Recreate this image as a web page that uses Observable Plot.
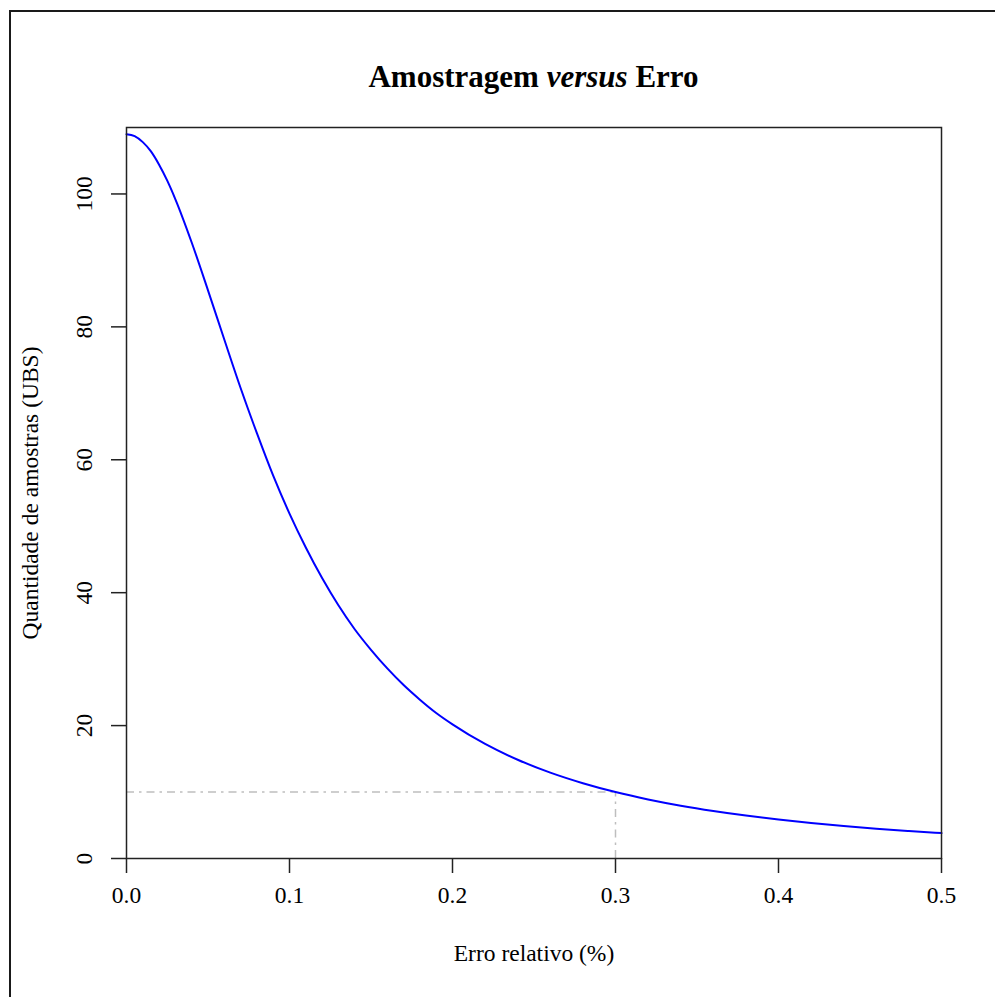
<!DOCTYPE html>
<html>
<head>
<meta charset="utf-8">
<script src="https://cdn.jsdelivr.net/npm/d3@7"></script>
<script src="https://cdn.jsdelivr.net/npm/@observablehq/plot@0.6"></script>
<style>
  html, body { margin: 0; padding: 0; background: #fff; overflow: hidden; }
  #wrap { position: relative; width: 995px; height: 997px; overflow: hidden; }
  #border { position: absolute; left: 9px; top: 10px; width: 1100px; height: 1100px; border: 2px solid #1a1a1a; box-sizing: border-box; }
  #chart { position: absolute; left: 0; top: 0; }
</style>
</head>
<body>
<div id="wrap"><div id="border"></div><div id="chart"></div></div>
<script>
// Values
const erro = [0, 0.005, 0.01, 0.015, 0.02, 0.025, 0.03, 0.04, 0.05, 0.06, 0.07, 0.08, 0.09, 0.10, 0.11, 0.12, 0.13, 0.14, 0.15, 0.16, 0.17, 0.18, 0.19, 0.20, 0.22, 0.24, 0.26, 0.28, 0.30, 0.32, 0.34, 0.36, 0.38, 0.40, 0.42, 0.44, 0.46, 0.48, 0.50];
const amostras = [109, 108.7, 107.8, 106.4, 104.4, 102.0, 99.2, 92.7, 85.5, 78.1, 70.8, 64.0, 57.6, 51.9, 46.8, 42.2, 38.1, 34.5, 31.4, 28.6, 26.1, 23.9, 21.9, 20.19, 17.24, 14.86, 12.92, 11.33, 10.0, 8.89, 7.95, 7.15, 6.46, 5.86, 5.34, 4.89, 4.49, 4.14, 3.82];
const refErro = [0.3];
const refAmostras = [10];
const xTicks = [0, 0.1, 0.2, 0.3, 0.4, 0.5];
const yTicks = [0, 20, 40, 60, 80, 100];
const titleParts = [["Amostragem ", "normal"], ["versus", "italic"], [" Erro", "normal"]];
const xLabel = "Erro relativo (%)";
const yLabel = "Quantidade de amostras (UBS)";

const data = erro.map((e, i) => ({erro: e, amostras: amostras[i]}));
const font = "Liberation Serif, Times New Roman, serif";
const fs = 23.5;

const plot = Plot.plot({
  width: 995,
  height: 997,
  marginLeft: 126,
  marginTop: 127,
  marginRight: 54,
  marginBottom: 139,
  style: {fontFamily: font, fontSize: fs + "px", color: "#000", background: "transparent"},
  x: {domain: [0, 0.5]},
  y: {domain: [0, 110]},
  marks: [
    Plot.ruleY(refAmostras, {y: d => d, x1: 0, x2: refErro[0], stroke: "#bebebe", strokeWidth: 1.5, strokeDasharray: "8,5,2.5,5"}),
    Plot.ruleX(refErro, {x: d => d, y1: 0, y2: refAmostras[0], stroke: "#bebebe", strokeWidth: 1.5, strokeDasharray: "8,5,2.5,5"}),
    Plot.line(data, {x: "erro", y: "amostras", stroke: "#0000ff", strokeWidth: 2, curve: "monotone-x"}),
    Plot.axisX({ticks: xTicks, tickSize: 15, tickFormat: () => "", label: null, stroke: "#222", strokeWidth: 1.5}),
    Plot.axisY({ticks: yTicks, tickSize: 15, tickFormat: () => "", label: null, stroke: "#222", strokeWidth: 1.5}),
    Plot.text(xTicks, {x: d => d, frameAnchor: "bottom", dy: 44, text: d => d.toFixed(1), fontSize: fs, fill: "#000"}),
    Plot.text(yTicks, {y: d => d, frameAnchor: "left", dx: -42, rotate: -90, textAnchor: "middle", text: d => String(d), fontSize: fs, fill: "#000"}),
    Plot.text([xLabel], {frameAnchor: "bottom", dy: 102, text: d => d, fontSize: fs, fill: "#000"}),
    Plot.text([yLabel], {frameAnchor: "left", dx: -96, rotate: -90, textAnchor: "middle", text: d => d, fontSize: fs, fill: "#000"}),
    Plot.frame({stroke: "#222", strokeWidth: 1.5})
  ]
});
document.getElementById("chart").appendChild(plot);

const svg = d3.select(plot);
const t = svg.append("text")
  .attr("x", 533.5).attr("y", 87)
  .attr("text-anchor", "middle")
  .style("font-family", font)
  .style("font-size", "31px")
  .style("font-weight", "bold")
  .attr("fill", "#000");
titleParts.forEach(([s, st]) => t.append("tspan").style("font-style", st).text(s));
</script>
</body>
</html>
